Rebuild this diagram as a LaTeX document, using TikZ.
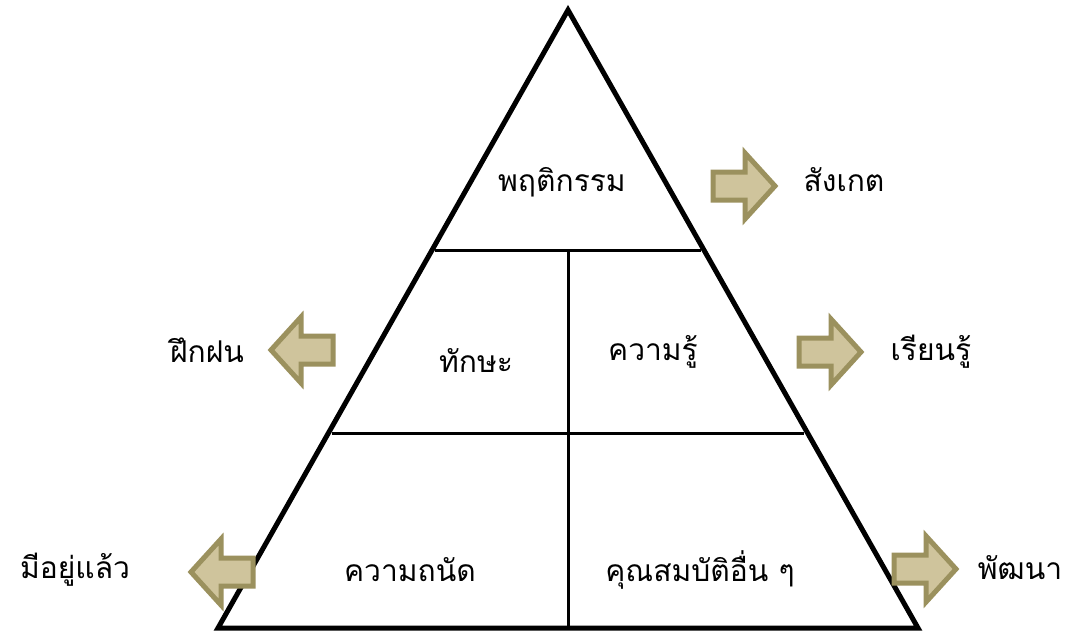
\documentclass[tikz,border=0pt]{standalone}
\usepackage{fontspec}
\newfontfamily\thai[Script=Thai]{Loma}
\definecolor{arrowfill}{HTML}{CFC49C}
\definecolor{arrowline}{HTML}{9B915E}
\tikzset{
  tri/.style={line width=5pt, line join=miter},
  inner/.style={line width=3pt},
  blk/.style={fill=arrowfill, draw=arrowline, line width=5pt, line join=miter},
  lbl/.style={font=\thai\fontsize{30}{36}\selectfont, inner sep=0pt, anchor=center}
}
\newcommand\rblock[3]{% name, cx, cy
  \draw[blk] (#2-31,#3-14) -- (#2+1,#3-14) -- (#2+1,#3-33) -- (#2+31,#3) -- (#2+1,#3+33) -- (#2+1,#3+14) -- (#2-31,#3+14) -- cycle;
  \coordinate (#1) at (#2,#3);}
\newcommand\lblock[3]{% name, cx, cy
  \draw[blk] (#2+31,#3-14) -- (#2-1,#3-14) -- (#2-1,#3-33) -- (#2-31,#3) -- (#2-1,#3+33) -- (#2-1,#3+14) -- (#2+31,#3+14) -- cycle;
  \coordinate (#1) at (#2,#3);}
\begin{document}
\begin{tikzpicture}[x=1pt,y=-1pt]
\useasboundingbox (0,0) rectangle (1073,633);
% triangle
\coordinate (apex) at (568,10);
\coordinate (bl) at (218,628);
\coordinate (br) at (918,628);
\draw[tri] (apex) -- (bl) -- (br) -- cycle;
\coordinate (l1a) at (435,250);
\coordinate (l1b) at (701,250);
\coordinate (l2a) at (332,433);
\coordinate (l2b) at (804,433);
\coordinate (vtop) at (568,250);
\coordinate (vbot) at (568,628);
\draw[inner] (l1a) -- (l1b);
\draw[inner] (l2a) -- (l2b);
\draw[inner] (vtop) -- (vbot);
% labels inside
\node[lbl] (beh) at (562,182) {พฤติกรรม};
\node[lbl] (skill) at (476,360) {ทักษะ};
\node[lbl] (know) at (653,352) {ความรู้};
\node[lbl] (apt) at (410,570) {ความถนัด};
\node[lbl] (other) at (700,570) {คุณสมบัติอื่น ๆ};
% arrows
\rblock{a1}{744}{186}
\lblock{a2}{302}{350}
\rblock{a3}{830}{352}
\lblock{a4}{222}{572}
\rblock{a5}{925}{569}
% outside labels
\node[lbl] (obs) at (844,180) {สังเกต};
\node[lbl] (prac) at (207,350) {ฝึกฝน};
\node[lbl] (learn) at (931,352) {เรียนรู้};
\node[lbl] (have) at (75,570) {มีอยู่แล้ว};
\node[lbl] (dev) at (1020,568) {พัฒนา};
\end{tikzpicture}
\end{document}
